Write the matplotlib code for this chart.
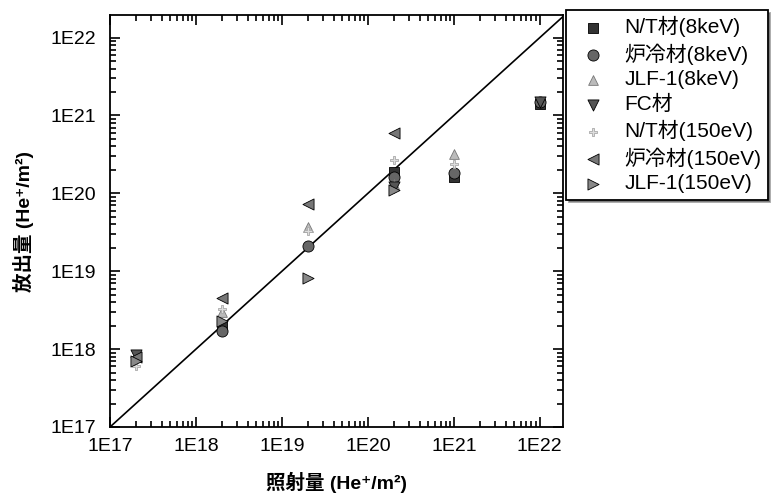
import matplotlib
matplotlib.use("Agg")
import matplotlib.pyplot as plt
from matplotlib.ticker import LogLocator, FixedLocator, NullFormatter

plt.rcParams['font.family'] = ['Liberation Sans', 'Noto Sans CJK JP', 'DejaVu Sans']

# Series: (irradiation fluence, released amount)
nt_8k_x = [2e18, 2e20, 1e21, 1e22]
nt_8k_y = [2.0e18, 1.9e20, 1.6e20, 1.4e21]
ro_8k_x = [2e18, 2e19, 2e20, 1e21, 1e22]
ro_8k_y = [1.7e18, 2.1e19, 1.6e20, 1.8e20, 1.5e21]
jlf_8k_x = [2e18, 2e19, 2e20, 1e21]
jlf_8k_y = [3.0e18, 3.7e19, 1.3e20, 3.2e20]
fc_x = [2e17, 2e20, 1e22]
fc_y = [8.5e17, 1.2e20, 1.5e21]
nt_150_x = [2e17, 2e18, 2e19, 2e20, 1e21]
nt_150_y = [6.0e17, 3.3e18, 3.3e19, 2.7e20, 2.4e20]
ro_150_x = [2e17, 2e18, 2e19, 2e20]
ro_150_y = [8.0e17, 4.5e18, 7.4e19, 5.9e20]
jlf_150_x = [2e17, 2e18, 2e19, 2e20]
jlf_150_y = [7.0e17, 2.3e18, 8.2e18, 1.1e20]

labels = ['N/T材(8keV)', '炉冷材(8keV)', 'JLF-1(8keV)', 'FC材',
          'N/T材(150eV)', '炉冷材(150eV)', 'JLF-1(150eV)']
tick_vals = [1e17, 1e18, 1e19, 1e20, 1e21, 1e22]
tick_labels = ['1E17', '1E18', '1E19', '1E20', '1E21', '1E22']

fig = plt.figure(figsize=(7.75, 5.0), dpi=100)
ax = fig.add_axes([110/775, 1-427/500, (563-110)/775, (427-15)/500])

xmin, xmax = 1e17, 10**22.27
ymin, ymax = 1e17, 10**22.29
ax.plot([xmin, xmax], [ymin, xmax], color='black', lw=1.2, zorder=1)

series = [
    (nt_8k_x, nt_8k_y, 's', '#333333', 'black', 7),
    (ro_8k_x, ro_8k_y, 'o', '#666666', 'black', 8),
    (jlf_8k_x, jlf_8k_y, '^', '#bbbbbb', '#777777', 7),
    (fc_x, fc_y, 'v', '#555555', 'black', 8),
    (nt_150_x, nt_150_y, 'P', '#dddddd', '#aaaaaa', 6),
    (ro_150_x, ro_150_y, '<', '#777777', 'black', 8),
    (jlf_150_x, jlf_150_y, '>', '#888888', 'black', 8),
]
handles = []
for (xs, ys, m, c, ec, s), lab in zip(series, labels):
    h = ax.scatter(xs, ys, marker=m, s=s**2, color=c, edgecolors=ec,
                   linewidths=0.6, zorder=3, label=lab)
    handles.append(h)

ax.set_xscale('log')
ax.set_yscale('log')
ax.set_xlim(xmin, xmax)
ax.set_ylim(ymin, ymax)
ax.xaxis.set_major_locator(FixedLocator(tick_vals))
ax.yaxis.set_major_locator(FixedLocator(tick_vals))
ax.set_xticklabels(tick_labels)
ax.set_yticklabels(tick_labels)
ax.xaxis.set_minor_locator(LogLocator(base=10, subs=range(2, 10), numticks=20))
ax.yaxis.set_minor_locator(LogLocator(base=10, subs=range(2, 10), numticks=20))
ax.xaxis.set_minor_formatter(NullFormatter())
ax.yaxis.set_minor_formatter(NullFormatter())
ax.tick_params(which='both', direction='in', top=True, right=True, labelsize=14, width=1.2)
ax.tick_params(which='major', length=7)
ax.tick_params(which='minor', length=4)
ax.tick_params(axis='x', pad=8)
ax.tick_params(axis='y', pad=10)
for sp in ax.spines.values():
    sp.set_linewidth(1.3)

ax.set_xlabel('照射量 (He⁺/m²)', fontsize=14, fontweight='bold', labelpad=12)
ax.set_ylabel('放出量 (He⁺/m²)', fontsize=14, fontweight='bold', labelpad=12)

leg = fig.legend(handles=handles, labels=labels, loc='upper left',
                 bbox_to_anchor=(566/775, 1-10/500), frameon=True, fancybox=False,
                 shadow=True, fontsize=15, handletextpad=0.5, borderpad=0.3,
                 labelspacing=0.28, edgecolor='black', borderaxespad=0,
                 handlelength=2.0)
leg.get_frame().set_linewidth(1.3)

fig.savefig('out.png', dpi=100)
